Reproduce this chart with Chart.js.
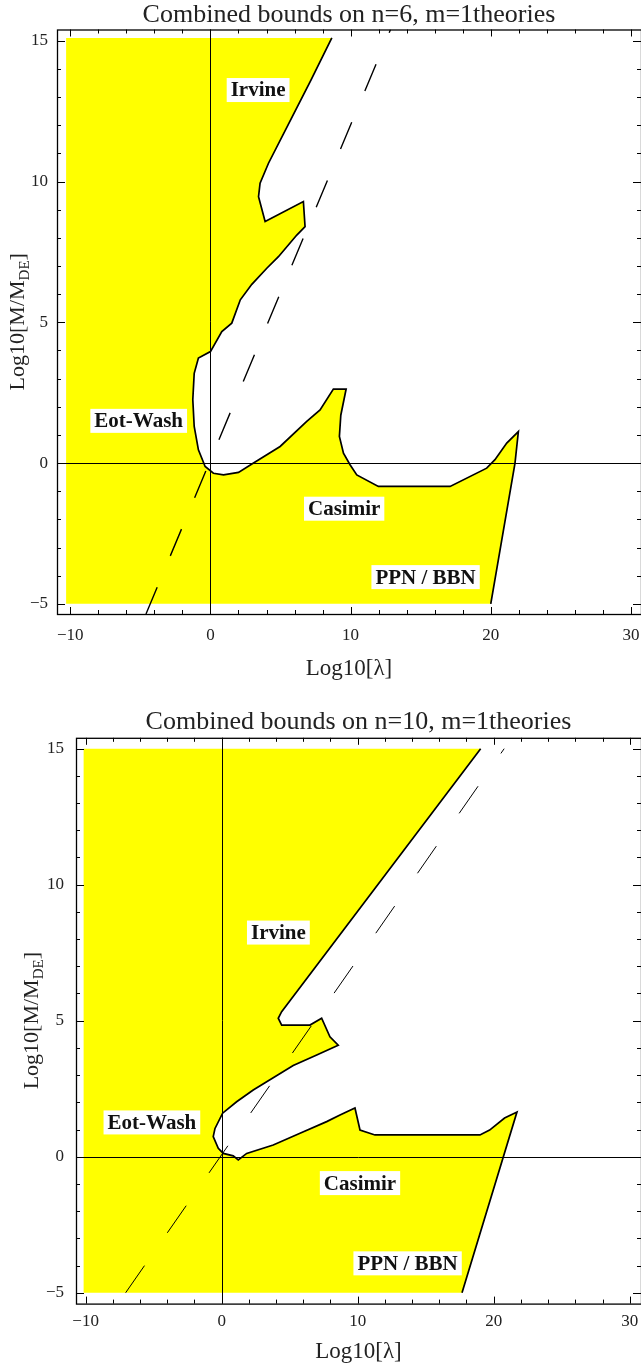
<!DOCTYPE html>
<html>
<head>
<meta charset="utf-8">
<script src="https://cdn.jsdelivr.net/npm/chart.js@4.4.1/dist/chart.umd.min.js"></script>
<style>
  body { margin: 0; background: #fff; overflow: hidden; }
  #top { position: absolute; left: 0; top: 0; width: 641px; height: 680px; }
  #bot { position: absolute; left: 0; top: 680px; width: 641px; height: 683px; }
</style>
</head>
<body>
<div id="top"><canvas id="c6" width="641" height="680"></canvas></div>
<div id="bot"><canvas id="c10" width="641" height="683"></canvas></div>
<script>
// ---- n=6 panel ----
var n6XRange = [-10.95, 30.72];
var n6YRange = [-5.36, 15.4];
var n6Edges = [-10.3, -5, 15.1];   // left, bottom, top of the excluded region
var n6BoundX = [8.66, 7.17, 5.83, 4.14, 3.54, 3.43, 3.9, 6.63, 6.75, 6.16, 4.85, 4.02, 2.95, 2.13, 1.52, 0.81, 0.0, -0.86, -1.16, -1.26, -1.16, -0.86, -0.38, 0.21, 0.93, 2.0, 3.07, 4.97, 6.87, 7.82, 8.77, 9.68, 9.3, 9.2, 9.49, 9.96, 10.44, 11.98, 17.1, 19.71, 20.3, 21.14, 21.97, 21.73, 20.0];
var n6BoundY = [15.1, 13.6, 12.3, 10.65, 9.94, 9.46, 8.58, 9.29, 8.4, 8.1, 7.33, 6.92, 6.35, 5.8, 4.97, 4.67, 3.96, 3.73, 3.19, 2.25, 1.3, 0.47, -0.12, -0.36, -0.42, -0.33, 0.0, 0.59, 1.48, 1.89, 2.63, 2.63, 1.7, 0.95, 0.35, -0.06, -0.42, -0.83, -0.83, -0.18, 0.12, 0.71, 1.12, 0.0, -5.0];
var n6DashX = [-4.6, 12.85];
var n6DashY = [-5.36, 15.4];
var n6LabelX = [3.4, -5.12, 9.54, 15.35];
var n6LabelY = [13.25, 1.5, -1.62, -4.05];

// ---- n=10 panel ----
var n10XRange = [-10.71, 30.83];
var n10YRange = [-5.4, 15.4];
var n10Edges = [-10.15, -5, 15.0];
var n10BoundX = [19.04, 4.41, 4.16, 4.41, 6.49, 7.35, 7.96, 8.57, 6.99, 5.26, 3.79, 2.32, 1.10, 0.07, -0.49, -0.62, -0.25, 0.12, 0.85, 1.22, 1.84, 3.79, 5.76, 7.72, 8.70, 9.80, 10.17, 11.27, 18.99, 19.7, 20.8, 21.71, 17.67];
var n10BoundY = [15.0, 5.33, 5.09, 4.84, 4.84, 5.09, 4.41, 4.1, 3.74, 3.35, 2.9, 2.45, 2.02, 1.6, 1.04, 0.74, 0.31, 0.12, 0.03, -0.12, 0.12, 0.43, 0.86, 1.29, 1.53, 1.79, 0.98, 0.8, 0.8, 0.98, 1.42, 1.64, -5.0];
var n10DashX = [-7.06, 20.77];
var n10DashY = [-5.0, 15.0];
var n10LabelX = [4.17, -5.13, 10.17, 13.67];
var n10LabelY = [8.24, 1.26, -0.97, -3.92];

var labelText = ["Irvine", "Eot-Wash", "Casimir", "PPN / BBN"];

var SERIF = '"Liberation Serif", "Times New Roman", serif';

function fmt(v) {
    v = Math.round(v);
    return v < 0 ? "\u2212" + Math.abs(v) : String(v);
}

function pts(xs, ys) {
    return xs.map(function(v, i) { return {x: v, y: ys[i]}; });
}

// frame, inward ticks, zero axes, region labels and the y title
function decor(cfg) {
    return {
        id: "decor",
        afterDatasetsDraw: function(chart) {
            var ctx = chart.ctx, a = chart.chartArea, x = chart.scales.x, y = chart.scales.y;
            ctx.save();
            ctx.strokeStyle = "#000";
            ctx.lineWidth = 1;
            var x0 = Math.round(x.getPixelForValue(0)) + 0.5;
            var y0 = Math.round(y.getPixelForValue(0)) + 0.5;
            ctx.beginPath();
            ctx.moveTo(x0, a.top); ctx.lineTo(x0, a.bottom);
            ctx.moveTo(a.left, y0); ctx.lineTo(a.right, y0);
            ctx.stroke();

            ctx.font = "bold 21px " + SERIF;
            ctx.textAlign = "center";
            ctx.textBaseline = "middle";
            labelText.forEach(function(t, i) {
                var px = x.getPixelForValue(cfg.lx[i]), py = y.getPixelForValue(cfg.ly[i]);
                var w = ctx.measureText(t).width;
                ctx.fillStyle = "#fff";
                ctx.fillRect(px - w / 2 - 4, py - 12, w + 8, 24);
                ctx.fillStyle = "#111";
                ctx.fillText(t, px, py + 1);
            });
            ctx.restore();
        },
        afterDraw: function(chart) {
            var ctx = chart.ctx, a = chart.chartArea, x = chart.scales.x, y = chart.scales.y;
            ctx.save();
            ctx.strokeStyle = "#000";
            ctx.lineWidth = 1.3;
            ctx.strokeRect(a.left + 0.5, a.top + 0.5, a.right - a.left, a.bottom - a.top);
            ctx.lineWidth = 1;
            ctx.beginPath();
            x.ticks.forEach(function(t) {
                var px = Math.round(x.getPixelForValue(t.value)) + 0.5;
                var len = Math.round(t.value) % 10 === 0 ? 7 : 4;
                ctx.moveTo(px, a.bottom); ctx.lineTo(px, a.bottom - len);
                ctx.moveTo(px, a.top); ctx.lineTo(px, a.top + len);
            });
            y.ticks.forEach(function(t) {
                var py = Math.round(y.getPixelForValue(t.value)) + 0.5;
                var len = Math.round(t.value) % 5 === 0 ? 8 : 4;
                ctx.moveTo(a.left, py); ctx.lineTo(a.left + len, py);
                ctx.moveTo(a.right, py); ctx.lineTo(a.right - len, py);
            });
            ctx.stroke();

            // rotated y title with subscript
            ctx.translate(cfg.yTitleX, (a.top + a.bottom) / 2);
            ctx.rotate(-Math.PI / 2);
            ctx.fillStyle = "#222";
            ctx.textBaseline = "alphabetic";
            ctx.textAlign = "left";
            var big = "22px " + SERIF, small = "15px " + SERIF;
            ctx.font = big;
            var w1 = ctx.measureText("Log10[M/M").width, w3 = ctx.measureText("]").width;
            ctx.font = small;
            var w2 = ctx.measureText("DE").width;
            var sx = -(w1 + w2 + w3) / 2;
            ctx.font = big;
            ctx.fillText("Log10[M/M", sx, 7);
            ctx.font = small;
            ctx.fillText("DE", sx + w1, 12);
            ctx.font = big;
            ctx.fillText("]", sx + w1 + w2, 7);
            ctx.restore();
        }
    };
}

function makeChart(id, o) {
    var boundary = pts(o.bx, o.by);
    var region = [{x: o.edges[0], y: o.edges[2]}].concat(boundary, [{x: o.edges[0], y: o.edges[1]}, {x: o.edges[0], y: o.edges[2]}]);

    return new Chart(document.getElementById(id), {
        type: "scatter",
        data: {
            datasets: [
                {
                    data: boundary, showLine: true, borderColor: "#000", borderWidth: 1.7,
                    pointRadius: 0, fill: false, order: 1
                },
                {
                    data: pts(o.dx, o.dy), showLine: true, borderColor: "#000", borderWidth: o.dashWidth,
                    borderDash: o.dash, pointRadius: 0, fill: false, order: 2
                },
                {
                    data: region, showLine: true, borderColor: "rgba(0,0,0,0)", borderWidth: 0,
                    backgroundColor: "#ffff00", pointRadius: 0, fill: "shape", order: 3
                }
            ]
        },
        options: {
            responsive: false,
            animation: false,
            devicePixelRatio: 1,
            events: [],
            layout: { padding: { left: 0, top: 0, bottom: 0, right: 0 }, autoPadding: false },
            plugins: {
                legend: { display: false },
                tooltip: { enabled: false },
                title: {
                    display: true,
                    fullSize: false,
                    text: o.title,
                    color: "#222",
                    font: { family: SERIF, size: 26, weight: "normal", lineHeight: 1 },
                    padding: { top: o.titlePad[0], bottom: o.titlePad[1] }
                }
            },
            scales: {
                x: {
                    type: "linear",
                    min: o.xr[0], max: o.xr[1],
                    grid: { display: false, drawTicks: false, tickLength: 0 },
                    border: { display: false },
                    ticks: {
                        stepSize: 2, includeBounds: false, autoSkip: false, maxRotation: 0,
                        padding: o.xTickPad, color: "#222",
                        font: { family: SERIF, size: 17 },
                        callback: function(v) { return Math.round(v) % 10 === 0 ? fmt(v) : ""; }
                    },
                    title: {
                        display: true, text: "Log10[\u03bb]", color: "#222",
                        font: { family: SERIF, size: 23, lineHeight: 1 },
                        padding: { top: 0, bottom: 0 }
                    },
                    afterFit: function(s) {
                        s.height = o.xHeight;
                        s.paddingLeft = 0;
                        s.paddingRight = 0;
                    }
                },
                y: {
                    type: "linear",
                    min: o.yr[0], max: o.yr[1],
                    grid: { display: false, drawTicks: false, tickLength: 0 },
                    border: { display: false },
                    ticks: {
                        stepSize: 1, includeBounds: false, autoSkip: false,
                        padding: o.yTickPad, color: "#222",
                        font: { family: SERIF, size: 17 },
                        callback: function(v) { return Math.round(v) % 5 === 0 ? fmt(v) : ""; }
                    },
                    afterFit: function(s) {
                        s.width = o.yWidth;
                        s.paddingTop = 0;
                        s.paddingBottom = 0;
                    }
                }
            }
        },
        plugins: [decor({lx: o.lx, ly: o.ly, yTitleX: o.yTitleX})]
    });
}

makeChart("c6", {
    title: "Combined bounds on n=6, m=1theories",
    xr: n6XRange, yr: n6YRange, edges: n6Edges,
    bx: n6BoundX, by: n6BoundY, dx: n6DashX, dy: n6DashY,
    lx: n6LabelX, ly: n6LabelY,
    dash: [29, 34], dashWidth: 1.4,
    titlePad: [2, 1.5], xHeight: 66, yWidth: 57, xTickPad: 11, yTickPad: 9, yTitleX: 17
});

makeChart("c10", {
    title: "Combined bounds on n=10, m=1theories",
    xr: n10XRange, yr: n10YRange, edges: n10Edges,
    bx: n10BoundX, by: n10BoundY, dx: n10DashX, dy: n10DashY,
    lx: n10LabelX, ly: n10LabelY,
    dash: [33, 40], dashWidth: 1,
    titlePad: [29, 2.8], xHeight: 59.4, yWidth: 76, xTickPad: 8, yTickPad: 12, yTitleX: 31
});
</script>
</body>
</html>
